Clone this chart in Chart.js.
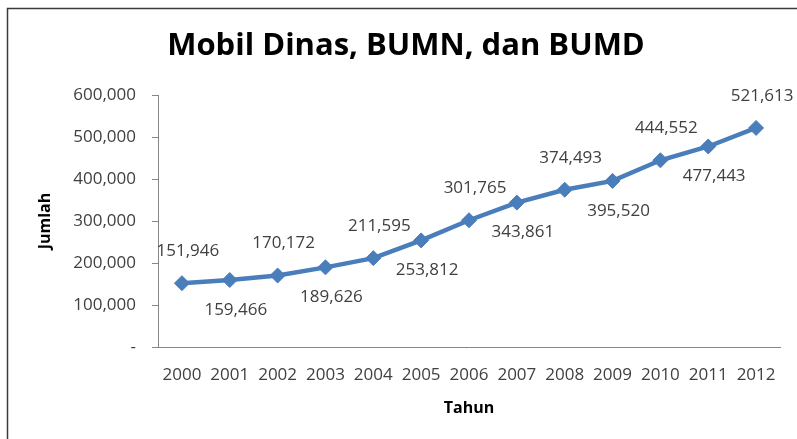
<!DOCTYPE html>
<html>
<head>
<meta charset="utf-8">
<script src="https://cdn.jsdelivr.net/npm/chart.js@4/dist/chart.umd.min.js"></script>
<style>
  html, body { margin: 0; padding: 0; background: #ffffff; }
  canvas { display: block; }
</style>
</head>
<body>
<canvas id="chart" width="797" height="439"></canvas>
<script>
// Official vehicles (government, BUMN and BUMD), yearly totals
const years = ['2000', '2001', '2002', '2003', '2004', '2005', '2006',
               '2007', '2008', '2009', '2010', '2011', '2012'];
const jumlah = [151946, 159466, 170172, 189626, 211595, 253812, 301765,
                343861, 374493, 395520, 444552, 477443, 521613];
const yTicks = [0, 100000, 200000, 300000, 400000, 500000, 600000];

const chartTitle = 'Mobil Dinas, BUMN, dan BUMD';
const xTitle = 'Tahun';
const yTitle = 'Jumlah';

const LINE_BLUE = '#4A7EBB';
const TEXT = '#404040';
const AXIS = '#868686';

const fmt = v => v.toLocaleString('en-US');

// Frame, chart title and axis titles
const decorations = {
  id: 'decorations',
  beforeDraw(chart) {
    const ctx = chart.ctx;
    ctx.save();
    ctx.fillStyle = '#ffffff';
    ctx.fillRect(0, 0, chart.width, chart.height);
    ctx.strokeStyle = '#3a3a3a';
    ctx.lineWidth = 1.5;
    ctx.strokeRect(7.5, 8.5, chart.width + 20, chart.height + 20);
    ctx.restore();
  },
  afterDraw(chart) {
    const ctx = chart.ctx;
    const area = chart.chartArea;
    ctx.save();
    ctx.fillStyle = '#000000';
    ctx.textAlign = 'center';
    ctx.textBaseline = 'middle';
    ctx.font = 'bold 31px "Open Sans"';
    ctx.fillText(chartTitle, 406, 46);

    ctx.font = 'bold 16px "Open Sans"';
    ctx.fillText(xTitle, (area.left + area.right) / 2, 408);

    ctx.translate(45, (area.top + area.bottom) / 2);
    ctx.rotate(-Math.PI / 2);
    ctx.fillText(yTitle, 0, 0);
    ctx.restore();
  }
};

// Value labels, alternating above and below the points
const valueLabels = {
  id: 'valueLabels',
  afterDatasetsDraw(chart) {
    const ctx = chart.ctx;
    const meta = chart.getDatasetMeta(0);
    const values = chart.data.datasets[0].data;
    ctx.save();
    ctx.font = '17px "Open Sans"';
    ctx.fillStyle = TEXT;
    ctx.textAlign = 'center';
    ctx.textBaseline = 'middle';
    meta.data.forEach((pt, i) => {
      const dy = i % 2 === 0 ? -32 : 30;
      ctx.fillText(fmt(values[i]), pt.x + 6, pt.y + dy);
    });
    ctx.restore();
  }
};

new Chart(document.getElementById('chart'), {
  type: 'line',
  data: {
    labels: years,
    datasets: [{
      label: yTitle,
      data: jumlah,
      borderColor: LINE_BLUE,
      backgroundColor: LINE_BLUE,
      borderWidth: 4.5,
      tension: 0,
      pointStyle: 'rectRot',
      pointRadius: 7.5,
      pointHoverRadius: 7.5,
      pointBackgroundColor: LINE_BLUE,
      pointBorderColor: LINE_BLUE,
      pointBorderWidth: 1
    }]
  },
  options: {
    responsive: false,
    devicePixelRatio: 1,
    animation: false,
    events: [],
    layout: { padding: { left: 0, top: 95, right: 17, bottom: 0 } },
    plugins: {
      legend: { display: false },
      title: { display: false },
      tooltip: { enabled: false }
    },
    scales: {
      x: {
        offset: true,
        grid: { display: false, drawTicks: false, offset: true },
        border: { display: true, color: AXIS, width: 1 },
        ticks: {
          color: TEXT,
          font: { family: '"Open Sans"', size: 17 },
          padding: 18,
          maxRotation: 0,
          autoSkip: false
        },
        afterFit(scale) { scale.height = 92; }
      },
      y: {
        min: 0,
        max: 600000,
        afterBuildTicks(scale) {
          scale.ticks = yTicks.map(v => ({ value: v }));
        },
        grid: {
          drawOnChartArea: false,
          drawTicks: true,
          tickLength: 6,
          color: AXIS
        },
        border: { display: true, color: AXIS, width: 1 },
        ticks: {
          color: TEXT,
          font: { family: '"Open Sans"', size: 17 },
          padding: 16,
          callback: v => (v === 0 ? '-' : fmt(v))
        },
        afterFit(scale) { scale.width = 158; }
      }
    }
  },
  plugins: [decorations, valueLabels]
});
</script>
</body>
</html>
